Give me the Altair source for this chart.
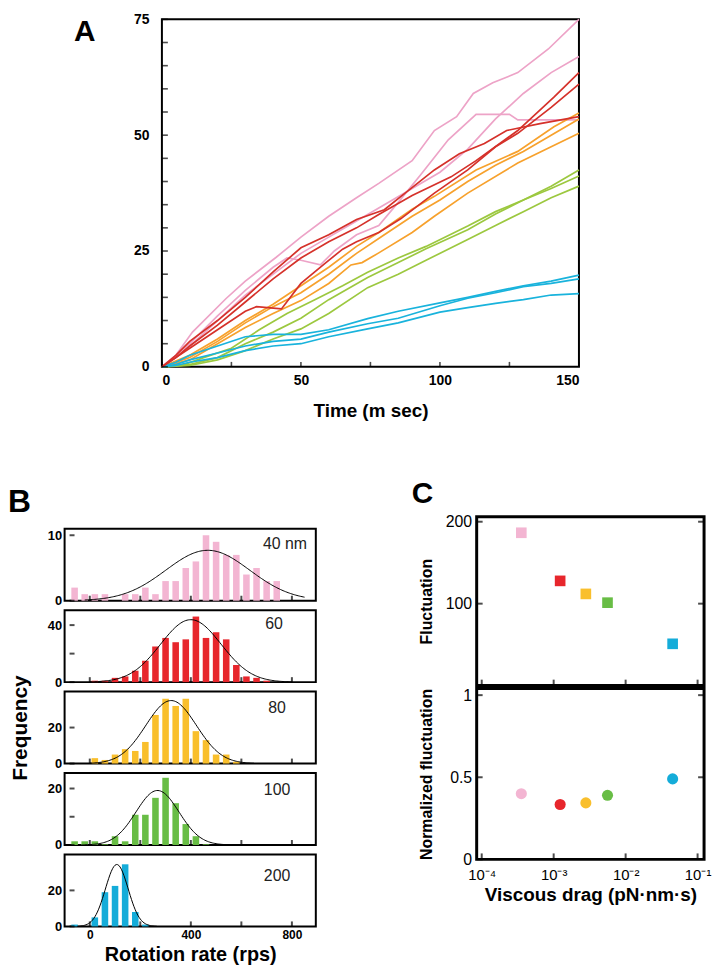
import altair as alt
import numpy as np
import pandas as pd

FONT = "Liberation Sans"

# ---------------- Panel A: rotation time courses (time ms, revolutions) ----------------
pink_1 = [(0,0),(5,2.5),(11,7.5),(23,14.7),(30,18.5),(41,23.6),(50,28),(60,32.5),(70,36.5),(78,39.6),(90,44.5),(98,51),(106,54),(112,59),(119,61.3),(128,63.5),(139,68.6),(150,75)]
pink_2 = [(0,0),(5,2),(10,4.5),(20,10),(30,15.5),(40,20),(50,24.5),(60,28),(70,31.5),(80,35),(90,38.5),(100,42),(110,47),(120,53.5),(130,59),(140,63.5),(150,67)]
pink_3 = [(0,0),(5,2.5),(10,5),(20,11),(30,16.5),(40,21.5),(45,23.5),(50,23),(57,22),(62,25),(70,28.5),(78,30.5),(85,35.5),(93,41.4),(103,49),(113,54.5),(125,54.5),(128,53.3),(150,53.3)]
red_1 = [(0,0),(5,2.5),(10,5.5),(20,10),(30,15),(40,20.5),(50,25.7),(60,28.5),(70,31.8),(80,33.9),(86,36.8),(98,42.5),(107,46),(116,48.2),(124,51),(136,52.5),(150,54)]
red_2 = [(0,0),(5,2),(10,4.5),(20,9),(30,14),(40,19),(50,23.5),(60,27),(70,30),(78,32.9),(90,37),(104,41),(113,44.5),(128,51),(141,58.2),(150,63.5)]
red_3 = [(0,0),(5,2),(10,4),(20,8),(30,12),(34,13),(43,12.5),(50,18),(59,22.5),(65,25.4),(70,27),(78,29),(86,32),(98,37.5),(110,42.5),(120,47.5),(128,50.4),(140,56),(150,61)]
orange_1 = [(0,0),(10,2.5),(20,6),(30,10),(40,13.5),(50,17.5),(60,21.5),(70,26),(78,29),(90,34),(98,36.8),(113,42.5),(128,46.5),(141,51.8),(150,54.8)]
orange_2 = [(0,0),(10,2),(20,5.5),(30,9.5),(40,13),(50,16),(60,20),(70,24.5),(80,28.5),(90,32.5),(100,36),(110,40),(120,43.5),(130,46.5),(140,50),(150,53.5)]
orange_3 = [(0,0),(10,1.5),(20,5),(30,8.5),(40,11.5),(50,14.3),(60,18),(68,22),(72,22.5),(78,24.6),(90,29),(98,32.5),(110,37.5),(128,44),(140,47.5),(150,50.4)]
green_1 = [(0,0),(8,0.5),(15,2),(25,4),(35,8),(45,11.5),(55,14.5),(65,17.5),(74,20.4),(85,23.5),(95,26),(110,30.4),(120,33.5),(130,36),(140,39),(150,42.5)]
green_2 = [(0,0),(10,0.5),(20,2),(30,5),(40,7.5),(50,10.5),(60,14.5),(74,19.3),(85,22.5),(95,25.5),(110,29.6),(120,33),(130,36),(140,38.5),(150,41.2)]
green_3 = [(0,0),(10,0.3),(20,1.5),(30,3.5),(40,6),(50,8.2),(60,11.5),(74,17.1),(85,20),(95,23),(110,27.5),(120,30.5),(130,33.5),(140,36.5),(150,39)]
cyan_1 = [(0,0),(5,1),(10,2.5),(20,4.5),(30,6.5),(40,7),(50,7),(60,8),(74,10.4),(85,12),(100,13.8),(110,15),(120,16.3),(130,17.5),(140,18.5),(150,19.8)]
cyan_2 = [(0,0),(5,0.5),(10,1.5),(20,3),(30,4.5),(40,5.5),(50,6),(60,7.5),(74,9.3),(85,10.5),(100,13.2),(110,14.8),(120,16),(130,17.3),(140,18),(150,19)]
cyan_3 = [(0,0),(5,0.3),(10,1),(20,2),(30,3.5),(40,4.5),(50,5),(60,6.5),(74,8.2),(85,9.5),(100,11.8),(110,12.8),(120,13.7),(130,14.5),(140,15.5),(150,15.8)]

A_PINK, A_RED, A_ORANGE, A_GREEN, A_CYAN = "#EDA3C7", "#D5312A", "#F7A12C", "#9CC83F", "#19B3DC"
traces_A = [
    ("pink_1", pink_1, A_PINK), ("pink_2", pink_2, A_PINK), ("pink_3", pink_3, A_PINK),
    ("orange_1", orange_1, A_ORANGE), ("orange_2", orange_2, A_ORANGE), ("orange_3", orange_3, A_ORANGE),
    ("green_1", green_1, A_GREEN), ("green_2", green_2, A_GREEN), ("green_3", green_3, A_GREEN),
    ("cyan_1", cyan_1, A_CYAN), ("cyan_2", cyan_2, A_CYAN), ("cyan_3", cyan_3, A_CYAN),
    ("red_1", red_1, A_RED), ("red_2", red_2, A_RED), ("red_3", red_3, A_RED),
]

# ---------------- Panel B: histograms of rotation rate ----------------
centers_40 = [-60,-20,20,60,100,140,180,220,260,300,340,380,420,460,500,540,580,620,660,700,740]
counts_40 = [2,1,1,1,0,1,1,2,1,3,3,5,6,10,9,7,7,4,5,3,3]
centers_60 = [20,60,100,140,180,220,260,300,340,380,420,460,500,540,580,620,660,700]
counts_60 = [1,1,3,4,8,15,25,31,28,30,46,31,35,30,12,4,3,1]
centers_80 = [20,60,100,140,180,220,260,300,340,380,420,460,500,540,580]
counts_80 = [3,2,5,8,7,12,27,36,32,36,18,13,5,5,1]
centers_100 = [-60,-20,20,60,100,140,180,220,260,300,340,380,420,460]
counts_100 = [1.3,1.3,1.3,0.25,3.1,1.3,10.7,10.7,16.7,23.8,14.8,7.4,3.1,0.25]
centers_200 = [-60,20,60,100,140,180,220]
counts_200 = [1,5,19,22.5,34.5,8,1]
# Gaussian fits: amplitude, mean, sd, drawn range
fit_40 = (7.7, 467, 166, -20, 850)
fit_60 = (43.8, 400, 120, 0, 800)
fit_80 = (35.0, 322, 100, 0, 650)
fit_100 = (19.3, 268, 85, -30, 590)
fit_200 = (34.4, 107, 45, -50, 265)

PINK, RED, YELLOW, GREEN, CYAN = "#F3B5D2", "#E7262C", "#F9BF2C", "#68BD45", "#14ACD9"

# ---------------- Panel C ----------------
bead_size = ["40 nm", "60 nm", "80 nm", "100 nm", "200 nm"]
viscous_drag = [3.55e-4, 1.23e-3, 2.8e-3, 5.6e-3, 4.5e-2]
fluctuation = [186.5, 127.8, 111.9, 101.2, 51]
normalized_fluct = [0.40, 0.334, 0.344, 0.39, 0.49]
C_COLORS = [PINK, RED, YELLOW, GREEN, CYAN]

NOSTROKE = alt.ViewBackground(strokeOpacity=0, strokeWidth=0)

# ======================= Panel A chart =======================
rows = []
for name, pts, col in traces_A:
    for t, v in pts:
        rows.append({"trace": name, "t": t, "v": v, "col": col})
dfA = pd.DataFrame(rows)

A_xs = alt.Scale(domain=[0, 150], nice=False, zero=False)
A_ys = alt.Scale(domain=[0, 75], nice=False)
A_xaxis = alt.Axis(values=[0, 50, 100, 150], ticks=False, domain=False, grid=False,
                   labelFont=FONT, labelFontSize=14, labelFontWeight="bold", labelPadding=7,
                   title="Time (m sec)", titleFont=FONT, titleFontSize=19, titleFontWeight="bold",
                   titlePadding=14)
A_yaxis = alt.Axis(values=[0, 25, 50, 75], ticks=False, domain=False, grid=False,
                   labelFont=FONT, labelFontSize=14, labelFontWeight="bold", labelPadding=13,
                   title="A", titleAngle=0, titleX=-89, titleY=-3, titleAlign="left",
                   titleBaseline="top", titleFont=FONT, titleFontSize=30, titleFontWeight="bold")

linesA = alt.Chart(dfA).mark_line(strokeWidth=1.7).encode(
    x=alt.X("t:Q", scale=A_xs, axis=A_xaxis),
    y=alt.Y("v:Q", scale=A_ys, axis=A_yaxis),
    color=alt.Color("col:N", scale=None),
    detail="trace:N",
    order="t:Q",
)
A_ytick_df = pd.DataFrame({"v": list(range(0, 80, 5))})
A_xtick_df = pd.DataFrame({"t": list(range(0, 175, 25))})
ytA = alt.Chart(A_ytick_df).mark_tick(orient="horizontal", size=6, thickness=1.6, color="black", xOffset=3).encode(
    x=alt.XDatum(0, scale=A_xs, axis=A_xaxis), y=alt.Y("v:Q", scale=A_ys, axis=A_yaxis))
xtA = alt.Chart(A_xtick_df).mark_tick(orient="vertical", size=5, thickness=1.6, color="black", yOffset=-2.5).encode(
    x=alt.X("t:Q", scale=A_xs, axis=A_xaxis), y=alt.YDatum(0, scale=A_ys, axis=A_yaxis))

chartA = alt.layer(linesA, ytA, xtA).properties(
    width=420, height=350, view=alt.ViewBackground(stroke="black", strokeWidth=2))

# tiny invisible cell that fixes the horizontal offset of panel A relative to panel B
dumA = alt.Chart(pd.DataFrame({"d": [0]})).mark_point(size=1, opacity=0).properties(
    width=1, height=1, view=NOSTROKE)
topRow = alt.hconcat(dumA, chartA, spacing=7)


# ======================= Panel B charts =======================
def hist_panel(centers, counts, color, fit, label, ymax, ytick_vals, ylabel_vals,
               bottom=False, ytitle=None, label_pos=(211, 15)):
    xs = alt.Scale(domain=[-80, 875], nice=False, zero=False)
    ys = alt.Scale(domain=[0, ymax], nice=False)
    lab_expr = " || ".join(f"datum.value == {v}" for v in ylabel_vals)
    ykw = dict(values=ytick_vals, labelExpr=f"({lab_expr}) ? datum.label : ''", ticks=False,
               domain=False, grid=False, labelFont=FONT, labelFontSize=13, labelFontWeight="bold",
               labelPadding=3)
    if ytitle:
        ykw.update(title=ytitle, titleFont=FONT, titleFontSize=21, titleFontWeight="bold", titlePadding=17)
    else:
        ykw.update(title=None)
    yaxis = alt.Axis(**ykw)
    xkw = dict(values=[0, 400, 800], labels=bottom, ticks=False, domain=False, grid=False,
               labelFont=FONT, labelFontSize=12, labelFontWeight="bold", labelPadding=3)
    if bottom:
        xkw.update(title="Rotation rate (rps)", titleFont=FONT, titleFontSize=20,
                   titleFontWeight="bold", titlePadding=4)
    else:
        xkw.update(title=None)
    xaxis = alt.Axis(**xkw)

    df = pd.DataFrame({"x": centers, "n": counts})
    amp, mu, sd, lo, hi = fit
    gx = np.arange(lo, hi + 0.1, 5.0)
    dfc = pd.DataFrame({"x": gx, "n": amp * np.exp(-0.5 * ((gx - mu) / sd) ** 2)})

    bars = alt.Chart(df).mark_bar(size=6.6, color=color, orient="vertical").encode(
        x=alt.X("x:Q", scale=xs, axis=xaxis), y=alt.Y("n:Q", scale=ys, axis=yaxis))
    curve = alt.Chart(dfc).mark_line(color="black", strokeWidth=1).encode(
        x=alt.X("x:Q", scale=xs, axis=xaxis), y=alt.Y("n:Q", scale=ys, axis=yaxis))
    xt = alt.Chart(pd.DataFrame({"x": [0, 200, 400, 600, 800]})).mark_tick(
        orient="vertical", size=5, thickness=2, color="black", yOffset=-2.5).encode(
        x=alt.X("x:Q", scale=xs, axis=xaxis), y=alt.YDatum(0, scale=ys, axis=yaxis))
    yt = alt.Chart(pd.DataFrame({"n": ytick_vals})).mark_tick(
        orient="horizontal", size=5, thickness=2, color="black", xOffset=2.5).encode(
        x=alt.XDatum(-80, scale=xs, axis=xaxis), y=alt.Y("n:Q", scale=ys, axis=yaxis))
    lab = alt.Chart(pd.DataFrame({"lab": [label]})).mark_text(
        font=FONT, fontSize=16, align="center", baseline="middle", color="#222").encode(
        text="lab:N", x=alt.value(label_pos[0]), y=alt.value(label_pos[1]))
    return alt.layer(bars, curve, xt, yt, lab).properties(
        width=253, height=72.5, view=alt.ViewBackground(stroke="black", strokeWidth=2))


h40 = hist_panel(centers_40, counts_40, PINK, fit_40, "40 nm", 11, [0, 10], [0, 10], label_pos=(222, 15))
h60 = hist_panel(centers_60, counts_60, RED, fit_60, "60", 50.5, [0, 20, 40], [0, 40], label_pos=(211, 14))
h80 = hist_panel(centers_80, counts_80, YELLOW, fit_80, "80", 40, [0, 20], [0, 20], ytitle="Frequency", label_pos=(214, 17))
h100 = hist_panel(centers_100, counts_100, GREEN, fit_100, "100", 25.5, [0, 10, 20], [0, 20], label_pos=(214, 17))
h200 = hist_panel(centers_200, counts_200, CYAN, fit_200, "200", 40, [0, 20], [0, 20], bottom=True, label_pos=(214, 22))

# small cell at the top of panel B carrying the panel letter
dumB = alt.Chart(pd.DataFrame({"lab": ["B"]})).mark_text(
    font=FONT, fontSize=32, fontWeight="bold", align="left", baseline="top", color="black").encode(
    text="lab:N", x=alt.value(-57), y=alt.value(-30)).properties(width=1, height=3, view=NOSTROKE)

panelB = alt.vconcat(dumB, h40, h60, h80, h100, h200, spacing=9, bounds="flush")

# ======================= Panel C charts =======================
dfC = pd.DataFrame({"size": bead_size, "drag": viscous_drag, "fluct": fluctuation,
                    "norm": normalized_fluct, "col": C_COLORS})
XMIN, XMAX = 10 ** -4.07, 10 ** -0.91
C_xs = alt.Scale(type="log", domain=[XMIN, XMAX], nice=False)
decades = [1e-4, 1e-3, 1e-2, 1e-1]
sup_expr = ("datum.value < 0.0005 ? '10\u207b\u2074' : datum.value < 0.005 ? '10\u207b\u00b3' : "
            "datum.value < 0.05 ? '10\u207b\u00b2' : '10\u207b\u00b9'")


def c_panel(field, ys, yvals, ytitle, tpad, mark, bottom, left_ticks, right_ticks, height):
    yaxis = alt.Axis(values=yvals, format="~r", ticks=False, domain=False, grid=False, labelFont=FONT,
                     labelFontSize=16, labelPadding=5, title=ytitle, titleFont=FONT, titleFontSize=16,
                     titleFontWeight="bold", titlePadding=tpad)
    if bottom:
        xaxis = alt.Axis(values=decades, labelExpr=sup_expr, ticks=False, domain=False, grid=False,
                         labelFont=FONT, labelFontSize=15, labelPadding=8,
                         title="Viscous drag (pN\u00b7nm\u00b7s)", titleFont=FONT, titleFontSize=19,
                         titleFontWeight="bold", titlePadding=3)
    else:
        xaxis = alt.Axis(values=decades, labels=False, ticks=False, domain=False, grid=False,
                         title="C", titleAngle=0, titleX=-66, titleY=-208, titleAlign="left",
                         titleBaseline="top", titleFont=FONT, titleFontSize=30, titleFontWeight="bold")
    pts = alt.Chart(dfC)
    if mark == "square":
        pts = pts.mark_square(size=115, opacity=1)
    else:
        pts = pts.mark_circle(size=125, opacity=1)
    pts = pts.encode(x=alt.X("drag:Q", scale=C_xs, axis=xaxis),
                     y=alt.Y(f"{field}:Q", scale=ys, axis=yaxis),
                     color=alt.Color("col:N", scale=None))
    xt = alt.Chart(pd.DataFrame({"drag": decades})).mark_tick(
        orient="vertical", size=6, thickness=2, color="black", yOffset=-3).encode(
        x=alt.X("drag:Q", scale=C_xs, axis=xaxis), y=alt.YDatum(0, scale=ys, axis=yaxis))
    ytl = alt.Chart(pd.DataFrame({field: left_ticks})).mark_tick(
        orient="horizontal", size=6, thickness=2, color="black", xOffset=3).encode(
        x=alt.XDatum(XMIN, scale=C_xs, axis=xaxis), y=alt.Y(f"{field}:Q", scale=ys, axis=yaxis))
    ytr = alt.Chart(pd.DataFrame({field: right_ticks})).mark_tick(
        orient="horizontal", size=6, thickness=2, color="black", xOffset=-3).encode(
        x=alt.XDatum(XMAX, scale=C_xs, axis=xaxis), y=alt.Y(f"{field}:Q", scale=ys, axis=yaxis))
    return alt.layer(pts, xt, ytl, ytr).properties(
        width=229, height=height, view=alt.ViewBackground(stroke="black", strokeWidth=3))


c_up = c_panel("fluct", alt.Scale(domain=[0, 206], nice=False), [100, 200], "Fluctuation", 11,
               "square", False, [100, 200], [100, 200], 170)
c_low = c_panel("norm", alt.Scale(domain=[0, 1.04], nice=False), [0, 0.5, 1], "Normalized fluctuation", 15,
                "circle", True, [0, 0.5, 1], [0.5, 1], 172)
panelC = alt.vconcat(c_up, c_low, spacing=3, bounds="flush")

bottomRow = alt.hconcat(panelB, panelC, spacing=93)

chart = alt.vconcat(topRow, bottomRow, spacing=56, padding=0).configure(
    font=FONT).configure_view(stroke="black")

chart.save("out.html", embed_options={"renderer": "svg", "actions": False})
